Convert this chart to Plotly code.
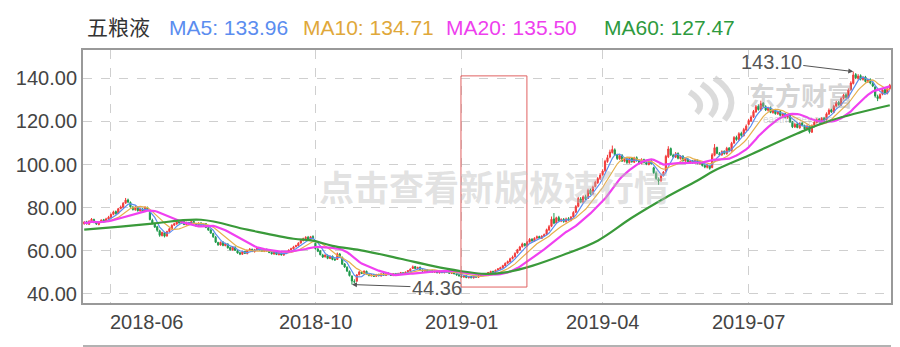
import pandas as pd
import plotly.graph_objects as go

# ---------------- data ----------------
holidays = ['2018-06-18', '2018-09-24', '2018-10-01', '2018-10-02', '2018-10-03', '2018-10-04',
            '2018-10-05', '2018-12-31', '2019-01-01', '2019-02-04', '2019-02-05', '2019-02-06',
            '2019-02-07', '2019-02-08', '2019-04-05', '2019-05-01', '2019-05-02', '2019-05-03',
            '2019-06-07', '2019-09-13']
dates = [d.strftime('%Y-%m-%d') for d in pd.bdate_range('2018-05-17', '2019-09-20')
         if d.strftime('%Y-%m-%d') not in holidays]

open_ = (
    [72.6, 73.4, 72.3, 73.9, 74.5, 73.3, 72.2, 73.1, 74.4, 73.6, 74.7]  # 2018-05
    + [75.5, 76.9, 78.2, 77.3, 79.6, 80.2, 82.1, 83.6, 82.4, 80.2, 79.0, 80.3, 78.5, 79.3, 78.2, 80.0, 77.8, 74.2, 72.6, 71.2]
    + [69.3, 67.0, 68.4, 66.9, 69.0, 70.1, 71.9, 72.4, 73.7, 72.8, 73.5, 72.1, 73.1, 72.3, 73.6, 72.5, 71.4, 72.9, 71.8, 72.6, 70.7, 69.7]
    + [68.0, 66.3, 63.8, 62.7, 64.0, 62.4, 63.1, 61.5, 60.4, 61.7, 60.1, 59.1, 58.4, 59.7, 58.7, 60.2, 60.7, 59.6, 60.4, 61.3, 60.3, 59.7, 60.7]
    + [59.8, 59.3, 58.5, 59.5, 58.2, 59.1, 58.0, 58.8, 59.4, 60.4, 60.9, 61.9, 62.3, 63.6, 64.7, 65.7, 66.3, 65.3, 66.6]
    + [63.5, 60.8, 59.9, 58.0, 57.2, 57.9, 56.4, 57.5, 56.1, 56.0, 58.5, 57.0, 53.9, 52.4, 50.4, 48.3, 45.8, 45.9]
    + [48.9, 50.1, 49.4, 50.5, 49.1, 48.4, 49.0, 48.2, 49.1, 48.3, 49.4, 48.6, 49.7, 48.9, 48.5, 49.5, 48.7, 49.6, 49.8, 49.2, 50.2, 50.7]
    + [51.8, 52.7, 51.7, 52.4, 51.1, 50.5, 51.1, 50.2, 50.9, 50.0, 50.6, 49.7, 50.5, 49.8, 50.7, 50.1, 49.5, 50.1, 49.2, 48.9]
    + [48.3, 47.8, 48.4, 47.5, 48.1, 47.4, 48.3, 47.7, 48.5, 49.2, 48.6, 49.3, 49.8, 50.5, 50.0, 51.1, 51.5, 52.1, 53.0, 54.3, 54.9, 56.4]
    + [57.2, 59.0, 60.4, 61.9, 63.3, 62.3, 64.1, 65.4, 64.5, 65.9, 66.6, 65.8, 66.9, 67.6, 69.7]
    + [71.4, 74.8, 72.9, 75.4, 73.8, 74.6, 73.5, 74.9, 74.1, 75.7, 77.9, 80.6, 84.0, 82.5, 85.1, 84.3, 88.1, 86.4, 89.8, 91.6, 93.4]
    + [95.3, 97.2, 101.4, 103.5, 105.6, 106.8, 104.4, 102.6, 104.3, 101.5, 102.6, 100.8, 103.0, 101.1, 103.2, 101.9, 100.5, 102.3, 100.9, 100.0, 101.6]
    + [98.5, 96.0, 93.2, 92.5, 95.0, 97.0, 103.6, 107.4, 104.3, 103.4, 105.2, 102.7, 103.9, 101.7, 102.6, 100.8, 101.7, 100.7, 102.0, 100.4]
    + [101.0, 99.6, 98.7, 99.5, 98.6, 104.3, 107.9, 105.0, 104.5, 106.2, 105.0, 107.6, 106.4, 110.0, 112.6, 111.5, 114.4, 113.4, 116.0]
    + [118.6, 120.2, 122.1, 124.4, 127.0, 125.3, 128.4, 126.8, 125.2, 126.3, 124.0, 125.2, 123.5, 124.6, 122.6, 123.5, 121.8, 122.8, 119.6, 117.4, 118.8, 117.0, 119.2]
    + [118.0, 116.3, 117.9, 115.0, 118.2, 119.5, 121.0, 119.7, 121.5, 120.8, 123.4, 125.4, 124.2, 127.1, 128.8, 127.6, 130.7, 132.3, 131.0, 134.8, 137.6, 141.7]
    + [140.0, 141.2, 139.4, 140.6, 138.3, 139.4, 137.6, 136.0, 131.5, 130.8, 132.6, 134.7, 133.0, 135.2]
)
high = (
    [73.8, 73.9, 74.1, 75.2, 74.9, 73.6, 73.5, 74.6, 74.8, 75.3, 76.2]
    + [77.3, 78.6, 78.7, 79.9, 81.0, 82.6, 84.5, 84.2, 82.9, 80.8, 80.9, 80.6, 79.9, 79.8, 80.7, 80.5, 78.2, 74.9, 73.1, 71.6]
    + [69.8, 68.9, 68.7, 69.3, 70.6, 72.3, 73.0, 74.1, 74.0, 73.9, 73.8, 73.5, 73.4, 73.9, 73.8, 72.9, 73.2, 73.2, 72.9, 72.8, 71.2, 70.0]
    + [68.4, 66.9, 64.2, 64.3, 64.5, 63.7, 63.5, 61.9, 62.2, 62.0, 60.5, 59.5, 60.0, 60.0, 60.5, 61.2, 61.0, 60.9, 61.7, 61.6, 60.6, 60.9, 61.0]
    + [60.2, 59.6, 59.8, 59.7, 59.4, 59.3, 59.0, 59.9, 60.7, 61.4, 62.3, 62.8, 64.0, 65.2, 66.1, 66.8, 66.9, 66.9, 67.2]
    + [63.8, 61.5, 60.3, 58.6, 58.4, 58.3, 57.9, 57.8, 56.6, 59.2, 59.0, 57.3, 54.3, 52.8, 50.9, 48.6, 46.8, 49.2]
    + [50.8, 50.5, 50.9, 50.8, 49.4, 49.2, 49.3, 49.3, 49.3, 49.6, 49.6, 49.9, 49.9, 49.1, 49.7, 49.7, 49.8, 50.2, 50.1, 50.4, 51.1, 51.9]
    + [53.2, 53.0, 52.6, 52.7, 51.4, 51.3, 51.4, 51.1, 51.2, 50.8, 50.8, 50.7, 50.7, 50.9, 50.9, 50.4, 50.3, 50.4, 49.5, 49.2]
    + [48.6, 48.6, 48.6, 48.3, 48.3, 48.5, 48.5, 48.9, 49.4, 49.4, 49.7, 50.2, 50.8, 50.7, 51.3, 52.0, 52.6, 53.5, 54.6, 55.5, 56.8, 57.8]
    + [59.3, 60.9, 62.3, 63.8, 63.6, 64.5, 65.9, 65.8, 66.3, 67.1, 67.0, 67.2, 68.0, 70.3, 72.0]
    + [75.9, 77.5, 75.8, 76.2, 75.1, 75.2, 75.4, 75.6, 76.1, 78.4, 81.2, 85.0, 84.9, 85.7, 86.0, 88.8, 88.9, 90.2, 92.5, 94.2, 96.0]
    + [97.8, 102.2, 104.5, 106.9, 108.8, 107.5, 105.0, 104.9, 104.8, 103.0, 103.1, 103.5, 103.4, 103.6, 103.8, 102.3, 102.9, 102.7, 101.4, 102.0, 102.1]
    + [99.0, 96.8, 94.0, 95.3, 97.0, 104.5, 108.5, 107.9, 105.0, 105.8, 105.6, 104.4, 104.3, 103.1, 102.9, 102.1, 102.0, 102.4, 102.3, 101.7]
    + [101.4, 100.2, 100.1, 99.9, 105.3, 109.5, 108.3, 105.8, 106.6, 106.5, 108.2, 108.1, 110.5, 113.2, 113.4, 115.0, 115.2, 117.0, 118.6]
    + [121.2, 122.8, 125.3, 127.6, 127.9, 129.6, 128.9, 127.5, 126.8, 126.9, 125.6, 125.8, 125.0, 125.3, 123.9, 124.0, 123.2, 123.4, 120.2, 119.3, 119.4, 119.6, 119.8]
    + [118.5, 118.6, 118.3, 118.6, 120.2, 121.5, 121.6, 122.0, 122.1, 124.2, 126.0, 125.9, 127.8, 129.5, 129.4, 131.2, 132.8, 133.0, 135.3, 138.6, 143.1, 142.4]
    + [141.9, 141.8, 141.0, 141.1, 139.9, 140.0, 138.2, 136.5, 132.4, 133.0, 135.2, 135.3, 135.6, 137.4]
)
low = (
    [72.1, 72.2, 72.0, 73.5, 72.8, 72.0, 71.8, 72.9, 73.1, 73.3, 74.4]
    + [75.1, 76.5, 76.8, 77.0, 79.2, 79.9, 81.8, 82.1, 80.0, 78.7, 78.6, 78.2, 78.2, 77.6, 78.0, 78.6, 74.1, 72.3, 70.6, 68.8]
    + [66.5, 66.7, 66.2, 66.5, 68.7, 69.8, 71.5, 72.1, 72.6, 72.5, 71.9, 71.8, 72.0, 72.0, 72.3, 71.1, 71.2, 71.6, 71.5, 70.5, 69.3, 67.9]
    + [66.0, 63.6, 62.3, 62.4, 62.1, 62.1, 61.0, 60.1, 60.1, 60.0, 58.7, 58.0, 58.2, 58.5, 58.4, 59.9, 59.4, 59.2, 60.1, 60.1, 59.5, 59.4, 59.6]
    + [58.9, 58.3, 58.2, 58.0, 57.9, 57.8, 57.7, 58.5, 59.2, 60.1, 60.6, 61.6, 62.1, 63.3, 64.4, 65.4, 65.1, 65.0, 65.5]
    + [60.6, 59.4, 57.9, 56.7, 56.9, 56.1, 56.2, 55.6, 55.3, 55.8, 56.9, 53.5, 52.1, 50.2, 48.1, 44.36, 45.0, 45.7]
    + [48.6, 49.2, 49.1, 49.0, 48.2, 48.1, 47.9, 48.0, 48.2, 48.1, 48.5, 48.4, 48.8, 48.3, 48.3, 48.6, 48.5, 49.3, 49.1, 49.0, 50.0, 50.4]
    + [51.6, 51.5, 51.4, 51.0, 50.3, 50.3, 50.0, 50.0, 49.9, 49.8, 49.6, 49.5, 49.6, 49.6, 50.0, 49.4, 49.3, 49.1, 48.6, 48.1]
    + [47.5, 47.5, 47.3, 47.2, 47.2, 47.2, 47.5, 47.5, 48.3, 48.4, 48.4, 49.1, 49.6, 49.8, 49.8, 50.8, 51.3, 51.9, 52.8, 53.9, 54.6, 56.0]
    + [56.9, 58.7, 60.1, 61.5, 62.0, 62.0, 63.8, 64.2, 64.2, 65.5, 65.5, 65.5, 66.5, 67.3, 69.2]
    + [71.0, 72.3, 72.5, 73.5, 73.3, 73.0, 73.1, 73.8, 73.7, 75.3, 77.5, 80.2, 82.1, 82.0, 83.6, 84.0, 86.0, 86.0, 89.4, 91.0, 92.8]
    + [94.8, 96.5, 100.8, 102.9, 105.1, 104.0, 102.1, 102.2, 101.2, 101.0, 100.3, 100.4, 100.8, 100.7, 101.3, 100.0, 100.1, 100.5, 99.7, 99.6, 99.9]
    + [95.6, 92.9, 90.6, 92.0, 94.6, 96.6, 103.0, 104.0, 103.0, 103.0, 102.4, 102.3, 101.3, 101.2, 100.4, 100.3, 100.3, 100.4, 100.1, 99.9]
    + [99.1, 98.3, 98.2, 97.6, 98.3, 103.8, 104.8, 104.0, 104.0, 104.6, 104.6, 106.1, 106.0, 109.5, 111.0, 111.0, 112.8, 113.0, 115.5]
    + [118.2, 119.7, 121.6, 124.0, 125.0, 124.9, 126.5, 124.8, 124.6, 123.8, 123.6, 123.1, 123.0, 122.3, 122.2, 121.3, 121.2, 119.3, 116.9, 117.0, 116.8, 116.6, 117.6]
    + [115.9, 115.8, 114.4, 114.7, 117.6, 119.0, 119.4, 119.3, 120.2, 120.4, 123.0, 123.9, 123.8, 126.6, 127.3, 127.2, 130.2, 130.6, 130.6, 134.2, 137.1, 139.6]
    + [139.3, 139.0, 138.9, 138.0, 137.8, 137.2, 135.9, 131.0, 129.4, 130.3, 132.1, 132.6, 132.5, 134.6]
)
close = (
    [73.2, 72.5, 73.8, 74.6, 73.1, 72.4, 73.0, 74.2, 73.5, 74.8, 75.6]
    + [76.8, 78.0, 77.2, 79.5, 80.3, 82.0, 83.5, 82.6, 80.4, 79.1, 80.2, 78.6, 79.4, 78.0, 80.1, 79.0, 74.5, 72.8, 71.0, 69.5]
    + [67.2, 68.5, 66.8, 68.9, 70.2, 71.8, 72.5, 73.6, 72.9, 73.4, 72.2, 73.0, 72.4, 73.5, 72.6, 71.5, 72.8, 71.9, 72.5, 70.8, 69.6, 68.2]
    + [66.5, 64.0, 62.8, 63.9, 62.5, 63.2, 61.4, 60.5, 61.8, 60.2, 59.0, 58.5, 59.6, 58.8, 60.1, 60.8, 59.7, 60.5, 61.2, 60.4, 59.8, 60.6, 59.9]
    + [59.2, 58.6, 59.4, 58.3, 59.0, 58.1, 58.7, 59.5, 60.3, 61.0, 61.8, 62.4, 63.5, 64.8, 65.6, 66.2, 65.4, 66.5, 65.8]
    + [61.0, 59.8, 58.2, 57.1, 58.0, 56.5, 57.4, 56.0, 55.8, 58.6, 57.2, 53.8, 52.5, 50.6, 48.5, 46.0, 45.6, 48.8]
    + [50.2, 49.5, 50.6, 49.2, 48.5, 48.9, 48.1, 49.0, 48.4, 49.3, 48.7, 49.6, 49.0, 48.6, 49.4, 48.8, 49.5, 49.9, 49.3, 50.1, 50.8, 51.5]
    + [52.6, 51.8, 52.3, 51.2, 50.6, 51.0, 50.3, 50.8, 50.1, 50.5, 49.8, 50.4, 49.9, 50.6, 50.2, 49.6, 50.0, 49.3, 48.8, 48.4]
    + [47.9, 48.3, 47.6, 48.0, 47.5, 48.2, 47.8, 48.6, 49.1, 48.7, 49.4, 49.9, 50.4, 50.1, 51.0, 51.6, 52.2, 53.1, 54.2, 55.0, 56.3, 57.1]
    + [58.8, 60.5, 61.8, 63.2, 62.4, 64.0, 65.3, 64.6, 65.8, 66.5, 65.9, 66.8, 67.5, 69.8, 71.2]
    + [74.6, 72.8, 75.3, 73.9, 74.5, 73.6, 74.8, 74.2, 75.6, 77.8, 80.5, 84.2, 82.6, 85.0, 84.1, 88.0, 86.5, 89.6, 91.8, 93.5, 95.1]
    + [97.0, 101.5, 103.2, 105.8, 107.0, 104.6, 102.8, 104.1, 101.6, 102.4, 100.9, 102.8, 101.3, 103.0, 101.8, 100.6, 102.2, 101.0, 100.2, 101.5, 100.4]
    + [96.2, 93.5, 92.4, 94.8, 96.5, 103.8, 107.2, 104.5, 103.6, 105.0, 102.9, 103.8, 101.8, 102.5, 100.9, 101.6, 100.8, 101.9, 100.5, 101.2]
    + [99.5, 98.8, 99.6, 98.2, 104.5, 107.8, 105.2, 104.6, 106.0, 105.1, 107.5, 106.6, 109.8, 112.5, 111.6, 114.3, 113.5, 116.2, 117.8]
    + [120.4, 122.0, 124.6, 126.8, 125.5, 128.2, 127.0, 125.3, 126.1, 124.2, 125.0, 123.6, 124.5, 122.8, 123.4, 121.9, 122.6, 119.8, 117.5, 118.6, 117.2, 119.0, 118.1]
    + [116.5, 117.8, 115.2, 118.0, 119.6, 120.8, 119.9, 121.4, 120.6, 123.5, 125.2, 124.4, 127.0, 128.6, 127.8, 130.5, 132.1, 131.2, 134.6, 137.8, 141.5, 140.2]
    + [141.0, 139.6, 140.4, 138.5, 139.2, 137.8, 136.4, 131.8, 130.6, 132.4, 134.5, 133.2, 135.0, 136.7]
)

# MA60 (its window starts before the visible range)
ma60_dates = ['2018-05-17', '2018-06-07', '2018-06-27', '2018-07-25', '2018-08-21', '2018-09-17',
              '2018-09-28', '2018-10-17', '2018-11-05', '2018-11-26', '2018-12-13', '2018-12-28',
              '2019-01-16', '2019-01-28', '2019-02-19', '2019-03-11', '2019-03-28', '2019-04-18',
              '2019-05-13', '2019-05-30', '2019-06-11', '2019-07-01', '2019-07-29', '2019-08-16',
              '2019-09-20']
ma60_vals = [69.8, 71.2, 72.6, 74.4, 69.8, 65.6, 64.7, 62.3, 60.0, 56.3, 53.0, 50.7,
             49.3, 50.0, 53.0, 58.6, 64.7, 75.3, 84.7, 92.6, 97.2, 104.2, 114.4, 120.5, 127.47]

header_items = [('五粮液', '#333333'), ('MA5: 133.96', '#5b8def'), ('MA10: 134.71', '#e0a83a'),
                ('MA20: 135.50', '#ee3fee'), ('MA60: 127.47', '#2e9a3e')]
header_px = [85, 167, 302, 445, 603]

tick_dates = ['2018-06-01', '2018-10-08', '2019-01-02', '2019-04-01', '2019-07-01']
tick_text = ['2018-06', '2018-10', '2019-01', '2019-04', '2019-07']
y_ticks = [40, 60, 80, 100, 120, 140]

peak_date, peak_val = '2019-08-29', 143.10
low_date, low_val = '2018-10-29', 44.36

assert len(dates) == len(open_) == len(high) == len(low) == len(close), (
    len(dates), len(open_), len(high), len(low), len(close))

# ---------------- figure ----------------
s = pd.Series(close)
ma5 = s.rolling(5, min_periods=1).mean()
ma10 = s.rolling(10, min_periods=1).mean()
ma20 = s.rolling(20, min_periods=1).mean()

RED = '#f23b3b'
GREEN = '#1f9a4c'
fig = go.Figure()
fig.add_trace(go.Candlestick(
    x=dates, open=open_, high=high, low=low, close=close,
    increasing=dict(line=dict(color=RED, width=1), fillcolor=RED),
    decreasing=dict(line=dict(color=GREEN, width=1), fillcolor=GREEN),
    whiskerwidth=0, showlegend=False, hoverinfo='skip'))
fig.add_trace(go.Scatter(x=dates, y=ma5, mode='lines', line=dict(color='#5b8def', width=1.2),
                         showlegend=False, hoverinfo='skip'))
fig.add_trace(go.Scatter(x=dates, y=ma10, mode='lines', line=dict(color='#e6b04c', width=1.2),
                         showlegend=False, hoverinfo='skip'))
fig.add_trace(go.Scatter(x=dates, y=ma20, mode='lines', line=dict(color='#f040f0', width=2.2),
                         showlegend=False, hoverinfo='skip'))
fig.add_trace(go.Scatter(x=ma60_dates, y=ma60_vals, mode='lines',
                         line=dict(color='#3a9a3a', width=2.2, shape='spline', smoothing=1.0),
                         showlegend=False, hoverinfo='skip'))

W, H = 900, 347
L, R, T, B = 83, 7, 50, 44
pw, ph = W - L - R, H - T - B

def px_x(px):
    return (px - L) / pw

def px_y(py):
    return (H - B - py) / ph

ann = []
for (txt, col), px in zip(header_items, header_px):
    ann.append(dict(text=txt, x=px_x(px), y=px_y(27), xref='paper', yref='paper',
                    xanchor='left', yanchor='middle', showarrow=False,
                    font=dict(size=21, color=col,
                              family='Liberation Sans, Noto Sans CJK SC, Arial, sans-serif')))
for i, (d, t) in enumerate(zip(tick_dates, tick_text)):
    ann.append(dict(text=t, x=d, y=0, xref='x', yref='paper', xanchor='center', yanchor='middle',
                    yshift=-19, xshift=36 if i == 0 else 0, showarrow=False,
                    font=dict(size=20, color='#444444', family='Liberation Sans, Arial, sans-serif')))
# watermarks
ann.append(dict(text='<b>点击查看新版极速行情</b>', x=px_x(495), y=px_y(185), xref='paper', yref='paper',
                xanchor='center', yanchor='middle', showarrow=False,
                font=dict(size=35, color='rgba(190,190,190,0.45)', family='Noto Sans CJK SC')))
ann.append(dict(text='<b>东方财富</b>', x=px_x(803), y=px_y(94), xref='paper', yref='paper',
                xanchor='center', yanchor='middle', showarrow=False,
                font=dict(size=26, color='rgba(160,160,160,0.45)', family='Noto Sans CJK SC')))
ann.append(dict(text='eastmoney.com', x=px_x(800), y=px_y(120), xref='paper', yref='paper',
                xanchor='center', yanchor='middle', showarrow=False,
                font=dict(size=10, color='rgba(160,160,160,0.45)', family='Liberation Sans')))
# price markers
ann.append(dict(text='143.10', x=peak_date, y=peak_val, xref='x', yref='y', ax=-82, ay=-10,
                showarrow=True, arrowhead=2, arrowsize=1, arrowwidth=1, arrowcolor='#555555',
                font=dict(size=20, color='#555555', family='Liberation Sans, Arial')))
ann.append(dict(text='44.36', x=low_date, y=low_val, xref='x', yref='y', ax=85, ay=3,
                showarrow=True, arrowhead=2, arrowsize=1, arrowwidth=1, arrowcolor='#555555',
                font=dict(size=20, color='#555555', family='Liberation Sans, Arial')))

box_x0 = dates.index('2019-01-02') - 0.2
box_x1 = dates.index('2019-02-14') + 0.9
logo_col = 'rgba(165,165,165,0.4)'

def swoosh(p0, c, p1):
    return 'M {},{} Q {},{} {},{}'.format(px_x(p0[0]), px_y(p0[1]), px_x(c[0]), px_y(c[1]),
                                           px_x(p1[0]), px_y(p1[1]))

shapes = [
    dict(type='rect', xref='x', yref='y', x0=box_x0, x1=box_x1, y0=43.2, y1=141.1,
         line=dict(color='#e06060', width=1), fillcolor='rgba(0,0,0,0)'),
    dict(type='line', xref='paper', yref='paper', x0=0, x1=1, y0=px_y(346), y1=px_y(346),
         line=dict(color='#999999', width=1.5)),
]
for p0, c, p1 in [((716, 78), (744, 97), (726, 120)), ((703, 84), (726, 100), (712, 116)),
                  ((691, 92), (708, 103), (698, 113))]:
    shapes.append(dict(type='path', xref='paper', yref='paper', path=swoosh(p0, c, p1),
                       line=dict(color=logo_col, width=6), layer='below'))

fig.update_layout(
    width=W, height=H, margin=dict(l=L, r=R, t=T, b=B),
    paper_bgcolor='white', plot_bgcolor='white',
    annotations=ann, shapes=shapes, showlegend=False,
    xaxis=dict(type='category', categoryorder='array', categoryarray=dates,
               range=[-0.5, len(dates) - 0.5], rangeslider=dict(visible=False),
               tickvals=tick_dates, ticktext=tick_text, showticklabels=False,
               showgrid=True, gridcolor='#cfcfcf', griddash='dash', gridwidth=1,
               showline=True, linecolor='#999999', linewidth=2, mirror=True, ticks='',
               zeroline=False),
    yaxis=dict(range=[35.8, 153.1], tickvals=y_ticks, tickformat='.2f',
               showgrid=True, gridcolor='#cfcfcf', griddash='dash', gridwidth=1,
               showline=True, linecolor='#999999', linewidth=2, mirror=True, ticks='',
               tickfont=dict(size=20, color='#444444', family='Liberation Sans, Arial'),
               zeroline=False),
)

fig.write_html('out.html', config={'displayModeBar': False})
